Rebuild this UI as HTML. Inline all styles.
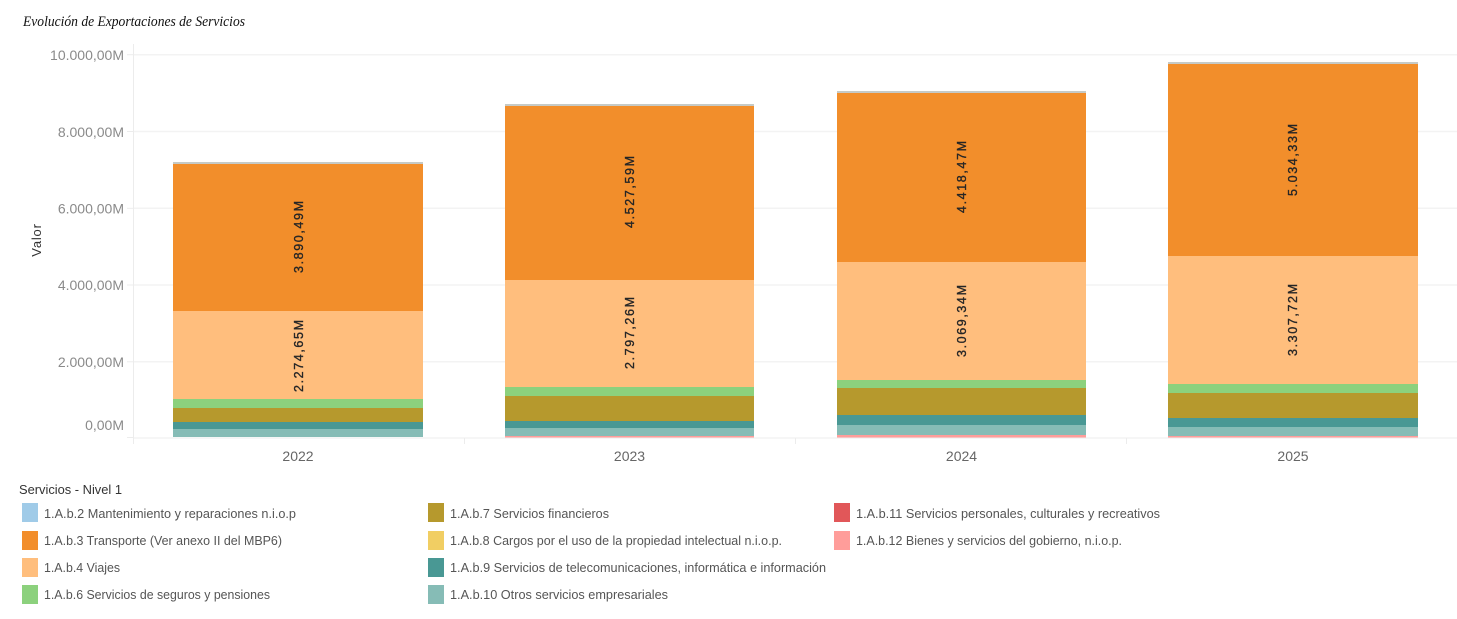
<!DOCTYPE html>
<html><head><meta charset="utf-8"><style>
html,body{margin:0;padding:0;background:#fff;}
svg{display:block;}
</style></head><body>
<svg width="1457" height="619" viewBox="0 0 1457 619" xmlns="http://www.w3.org/2000/svg">
<rect width="1457" height="619" fill="#fff"/>
<!-- title -->
<text x="23" y="26" font-family="Liberation Serif, serif" font-style="italic" font-size="14.5" fill="#111" textLength="222" lengthAdjust="spacingAndGlyphs">Evolución de Exportaciones de Servicios</text>

<!-- gridlines -->
<g stroke="#f3f3f3" stroke-width="1.5">
<line x1="133" y1="54.7" x2="1457" y2="54.7"/>
<line x1="133" y1="131.5" x2="1457" y2="131.5"/>
<line x1="133" y1="208.3" x2="1457" y2="208.3"/>
<line x1="133" y1="285" x2="1457" y2="285"/>
<line x1="133" y1="361.8" x2="1457" y2="361.8"/>
</g>
<g stroke="#ececec" stroke-width="1">
<line x1="127" y1="54.7" x2="133" y2="54.7"/>
<line x1="127" y1="131.5" x2="133" y2="131.5"/>
<line x1="127" y1="208.3" x2="133" y2="208.3"/>
<line x1="127" y1="285" x2="133" y2="285"/>
<line x1="127" y1="361.8" x2="133" y2="361.8"/>
<line x1="127" y1="437.5" x2="133" y2="437.5"/>
<line x1="133.5" y1="44" x2="133.5" y2="444"/>
<line x1="133" y1="438" x2="1457" y2="438"/>
<line x1="464.5" y1="438" x2="464.5" y2="444"/>
<line x1="795.5" y1="438" x2="795.5" y2="444"/>
<line x1="1126.5" y1="438" x2="1126.5" y2="444"/>
</g>

<!-- y-axis labels -->
<g font-family="Liberation Sans, sans-serif" font-size="14" fill="#8a8a8a" text-anchor="end">
<text x="124" y="60">10.000,00M</text>
<text x="124" y="137">8.000,00M</text>
<text x="124" y="213.5">6.000,00M</text>
<text x="124" y="290">4.000,00M</text>
<text x="124" y="367">2.000,00M</text>
<text x="124" y="430">0,00M</text>
</g>
<text transform="translate(41,240) rotate(-90)" font-family="Liberation Sans, sans-serif" font-size="13" fill="#333" text-anchor="middle" letter-spacing="0.8">Valor</text>

<!-- bars 2022 -->
<g>
<rect x="173" y="162" width="250" height="2" fill="#c6cac6"/>
<rect x="173" y="164" width="250" height="147" fill="#f28e2b"/>
<rect x="173" y="311" width="250" height="88" fill="#ffbe7d"/>
<rect x="173" y="399" width="250" height="9" fill="#8cd17d"/>
<rect x="173" y="408" width="250" height="14" fill="#b6992d"/>
<rect x="173" y="422" width="250" height="7" fill="#499894"/>
<rect x="173" y="429" width="250" height="8" fill="#86bcb6"/>
</g>
<!-- bars 2023 -->
<g>
<rect x="505" y="104" width="249" height="2" fill="#c6cac6"/>
<rect x="505" y="106" width="249" height="174" fill="#f28e2b"/>
<rect x="505" y="280" width="249" height="107" fill="#ffbe7d"/>
<rect x="505" y="387" width="249" height="9" fill="#8cd17d"/>
<rect x="505" y="396" width="249" height="25" fill="#b6992d"/>
<rect x="505" y="421" width="249" height="7" fill="#499894"/>
<rect x="505" y="428" width="249" height="8" fill="#86bcb6"/>
<rect x="505" y="436" width="249" height="1.5" fill="#ff9d9a"/>
</g>
<!-- bars 2024 -->
<g>
<rect x="837" y="91" width="249" height="2" fill="#c6cac6"/>
<rect x="837" y="93" width="249" height="169" fill="#f28e2b"/>
<rect x="837" y="262" width="249" height="118" fill="#ffbe7d"/>
<rect x="837" y="380" width="249" height="8" fill="#8cd17d"/>
<rect x="837" y="388" width="249" height="27" fill="#b6992d"/>
<rect x="837" y="415" width="249" height="10" fill="#499894"/>
<rect x="837" y="425" width="249" height="10" fill="#86bcb6"/>
<rect x="837" y="435" width="249" height="2.5" fill="#ff9d9a"/>
</g>
<!-- bars 2025 -->
<g>
<rect x="1168" y="62" width="250" height="2" fill="#c6cac6"/>
<rect x="1168" y="64" width="250" height="192" fill="#f28e2b"/>
<rect x="1168" y="256" width="250" height="128" fill="#ffbe7d"/>
<rect x="1168" y="384" width="250" height="9" fill="#8cd17d"/>
<rect x="1168" y="393" width="250" height="25" fill="#b6992d"/>
<rect x="1168" y="418" width="250" height="9" fill="#499894"/>
<rect x="1168" y="427" width="250" height="9" fill="#86bcb6"/>
<rect x="1168" y="436" width="250" height="1.5" fill="#ff9d9a"/>
</g>

<!-- data labels -->
<g font-family="Liberation Sans, sans-serif" font-size="12.5" fill="#262626" stroke="#262626" stroke-width="0.35" text-anchor="middle">
<text transform="translate(303,237) rotate(-90)" textLength="72" lengthAdjust="spacing">3.890,49M</text>
<text transform="translate(303,356) rotate(-90)" textLength="72" lengthAdjust="spacing">2.274,65M</text>
<text transform="translate(634,192) rotate(-90)" textLength="72" lengthAdjust="spacing">4.527,59M</text>
<text transform="translate(634,333) rotate(-90)" textLength="72" lengthAdjust="spacing">2.797,26M</text>
<text transform="translate(966,177) rotate(-90)" textLength="72" lengthAdjust="spacing">4.418,47M</text>
<text transform="translate(966,321) rotate(-90)" textLength="72" lengthAdjust="spacing">3.069,34M</text>
<text transform="translate(1297,160) rotate(-90)" textLength="72" lengthAdjust="spacing">5.034,33M</text>
<text transform="translate(1297,320) rotate(-90)" textLength="72" lengthAdjust="spacing">3.307,72M</text>
</g>

<!-- x labels -->
<g font-family="Liberation Sans, sans-serif" font-size="14" fill="#666" text-anchor="middle">
<text x="298" y="461">2022</text>
<text x="629.5" y="461">2023</text>
<text x="961.5" y="461">2024</text>
<text x="1293" y="461">2025</text>
</g>

<!-- legend -->
<text x="19" y="494" font-family="Liberation Sans, sans-serif" font-size="13" fill="#333" textLength="103" lengthAdjust="spacingAndGlyphs">Servicios - Nivel 1</text>
<g>
<rect x="22" y="503" width="16" height="19" fill="#a0cbe8"/>
<rect x="22" y="531" width="16" height="19" fill="#f28e2b"/>
<rect x="22" y="558" width="16" height="19" fill="#ffbe7d"/>
<rect x="22" y="585" width="16" height="19" fill="#8cd17d"/>
<rect x="428" y="503" width="16" height="19" fill="#b6992d"/>
<rect x="428" y="531" width="16" height="19" fill="#f1ce63"/>
<rect x="428" y="558" width="16" height="19" fill="#499894"/>
<rect x="428" y="585" width="16" height="19" fill="#86bcb6"/>
<rect x="834" y="503" width="16" height="19" fill="#e15759"/>
<rect x="834" y="531" width="16" height="19" fill="#ff9d9a"/>
</g>
<g font-family="Liberation Sans, sans-serif" font-size="13" fill="#555">
<text x="44" y="518" textLength="252" lengthAdjust="spacingAndGlyphs">1.A.b.2 Mantenimiento y reparaciones n.i.o.p</text>
<text x="44" y="545" textLength="238" lengthAdjust="spacingAndGlyphs">1.A.b.3 Transporte (Ver anexo II del MBP6)</text>
<text x="44" y="572" textLength="76" lengthAdjust="spacingAndGlyphs">1.A.b.4 Viajes</text>
<text x="44" y="599" textLength="226" lengthAdjust="spacingAndGlyphs">1.A.b.6 Servicios de seguros y pensiones</text>
<text x="450" y="518" textLength="159" lengthAdjust="spacingAndGlyphs">1.A.b.7 Servicios financieros</text>
<text x="450" y="545" textLength="332" lengthAdjust="spacingAndGlyphs">1.A.b.8 Cargos por el uso de la propiedad intelectual n.i.o.p.</text>
<text x="450" y="572" textLength="376" lengthAdjust="spacingAndGlyphs">1.A.b.9 Servicios de telecomunicaciones, informática e información</text>
<text x="450" y="599" textLength="218" lengthAdjust="spacingAndGlyphs">1.A.b.10 Otros servicios empresariales</text>
<text x="856" y="518" textLength="304" lengthAdjust="spacingAndGlyphs">1.A.b.11 Servicios personales, culturales y recreativos</text>
<text x="856" y="545" textLength="266" lengthAdjust="spacingAndGlyphs">1.A.b.12 Bienes y servicios del gobierno, n.i.o.p.</text>
</g>
</svg>
</body></html>
